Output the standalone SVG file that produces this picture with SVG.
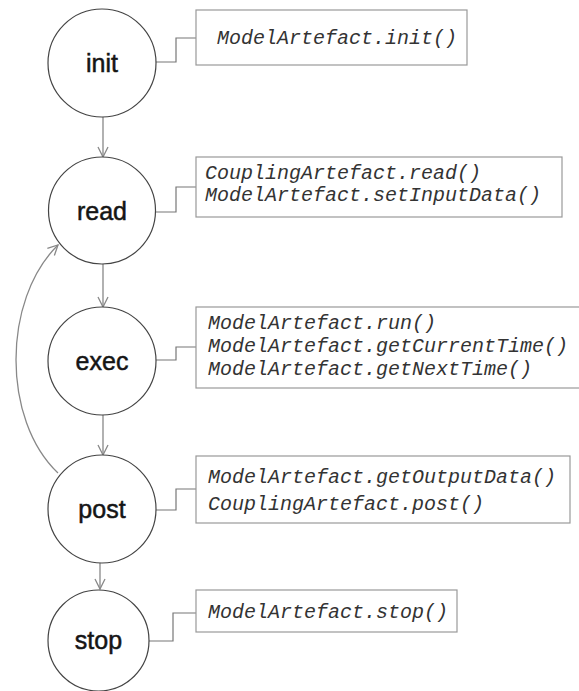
<svg xmlns="http://www.w3.org/2000/svg" width="579" height="691" viewBox="0 0 579 691">
<style>
.node circle{fill:#fff;stroke:#444;stroke-width:1.2}
.node text.lbl{font-family:"Liberation Sans",Arial,sans-serif;font-size:25px;fill:#151515;stroke:#151515;stroke-width:0.5;text-anchor:middle}
.box rect{fill:#fff;stroke:#999;stroke-width:1.2}
.box text{font-family:"Liberation Mono","Courier New",monospace;font-style:italic;font-size:20px;fill:#333}
.link{fill:none;stroke:#777;stroke-width:1.2}
.arrow{fill:none;stroke:#888;stroke-width:1.3;marker-end:url(#arr)}
</style>
<defs>
<marker id="arr" viewBox="0 0 12 12" refX="11" refY="6" markerWidth="12" markerHeight="12" markerUnits="userSpaceOnUse" orient="auto">
<path d="M1,1 L11,6 L1,11" fill="none" stroke="#888" stroke-width="1.3"/>
</marker>
</defs>
<rect width="579" height="691" fill="#fff"/>
<g id="connectors">
<line class="arrow" x1="103" y1="117" x2="103" y2="157"/>
<line class="arrow" x1="103" y1="264" x2="103" y2="307"/>
<line class="arrow" x1="103" y1="415" x2="103" y2="455"/>
<line class="arrow" x1="100" y1="563" x2="100" y2="589"/>
<path class="arrow" d="M58,473 C2,420 2,300 58,245"/>
<path class="link" d="M156,62 H176 V38 H196"/>
<path class="link" d="M156,212 H176 V187 H196"/>
<path class="link" d="M156,360 H176 V347 H196"/>
<path class="link" d="M156,510 H176 V489 H196"/>
<path class="link" d="M149,641 H173 V613 H196"/>
</g>
<g id="init" class="node"><circle cx="102" cy="63" r="54"/><text class="lbl" x="102" y="72">init</text></g>
<g id="read" class="node"><circle cx="102" cy="210.5" r="53.5"/><text class="lbl" x="102" y="220">read</text></g>
<g id="exec" class="node"><circle cx="102" cy="361" r="54"/><text class="lbl" x="102" y="370">exec</text></g>
<g id="post" class="node"><circle cx="102" cy="509" r="54"/><text class="lbl" x="102" y="518">post</text></g>
<g id="stop" class="node"><circle cx="98.5" cy="640.5" r="50.5"/><text class="lbl" x="98.5" y="649">stop</text></g>
<g id="init-box" class="box"><rect x="196" y="10" width="271" height="55"/><text x="217" y="44">ModelArtefact.init()</text></g>
<g id="read-box" class="box"><rect x="196" y="157" width="366" height="60"/><text x="205" y="179">CouplingArtefact.read()</text><text x="205" y="201">ModelArtefact.setInputData()</text></g>
<g id="exec-box" class="box"><rect x="196" y="307" width="390" height="81"/><text x="208" y="329">ModelArtefact.run()</text><text x="208" y="352">ModelArtefact.getCurrentTime()</text><text x="208" y="375">ModelArtefact.getNextTime()</text></g>
<g id="post-box" class="box"><rect x="196" y="456" width="374" height="67"/><text x="208" y="483">ModelArtefact.getOutputData()</text><text x="208" y="510">CouplingArtefact.post()</text></g>
<g id="stop-box" class="box"><rect x="196" y="590" width="261" height="42"/><text x="208" y="618">ModelArtefact.stop()</text></g>
</svg>
